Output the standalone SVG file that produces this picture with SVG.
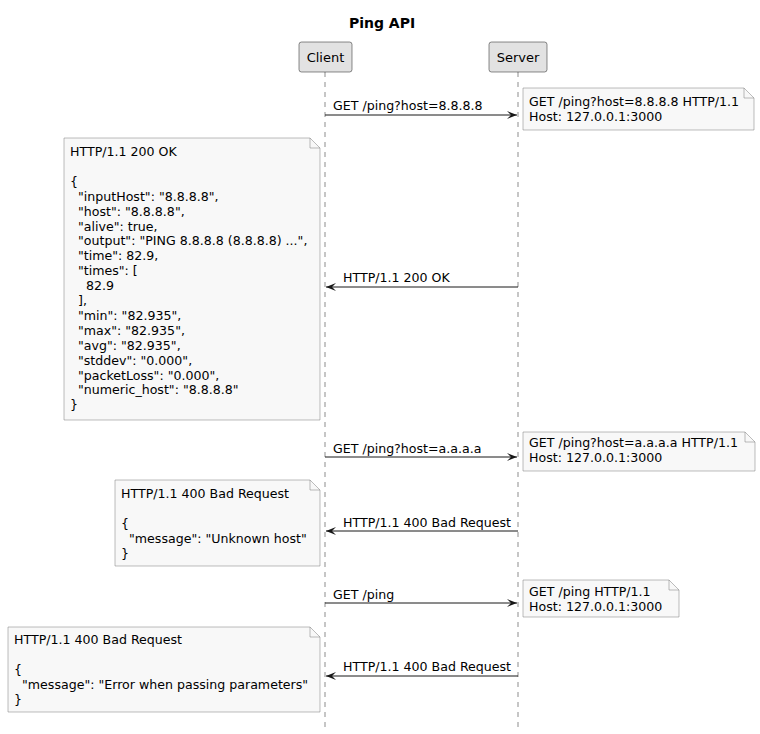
<svg xmlns="http://www.w3.org/2000/svg" width="760" height="734" viewBox="0 0 760 734">
<defs>
<marker id="ah" markerWidth="10" markerHeight="8" refX="10" refY="4" orient="auto" markerUnits="userSpaceOnUse">
<path d="M0,0 L10,4 L0,8 L4,4 Z" fill="#181818"/>
</marker>
<style>
text{font-family:"DejaVu Sans","Liberation Sans",sans-serif;font-size:12.6px;fill:#000}
.title{font-weight:bold;font-size:14px}
.pt{font-size:13px}
.part{fill:#E2E2E2;stroke:#181818;stroke-width:0.5}
.life{stroke:#181818;stroke-width:0.5;stroke-dasharray:5,5;fill:none}
.msg{stroke:#181818;stroke-width:1;fill:none;marker-end:url(#ah)}
.note{fill:#F8F8F8;stroke:#7A7A7A;stroke-width:0.5}
.fold{fill:none;stroke:#7A7A7A;stroke-width:0.5}
</style>
</defs>
<rect width="760" height="734" fill="#FFFFFF"/>
<text class="title" x="382" y="28" text-anchor="middle">Ping API</text>

<g id="lifelines">
<line class="life" x1="325" y1="72" x2="325" y2="730"/>
<line class="life" x1="518" y1="72" x2="518" y2="730"/>
</g>

<g id="client">
<rect class="part" x="299" y="42" width="53" height="30" rx="2.5"/>
<text class="pt" x="325.5" y="62" text-anchor="middle">Client</text>
</g>
<g id="server">
<rect class="part" x="489" y="42" width="58" height="30" rx="2.5"/>
<text class="pt" x="518" y="62" text-anchor="middle">Server</text>
</g>

<g id="connectors">
<line class="msg" x1="325" y1="115" x2="517" y2="115"/>
<text x="333" y="110">GET /ping?host=8.8.8.8</text>
<line class="msg" x1="518" y1="287" x2="326" y2="287"/>
<text x="343" y="282">HTTP/1.1 200 OK</text>
<line class="msg" x1="325" y1="457" x2="517" y2="457"/>
<text x="333" y="453">GET /ping?host=a.a.a.a</text>
<line class="msg" x1="518" y1="531" x2="326" y2="531"/>
<text x="343" y="527">HTTP/1.1 400 Bad Request</text>
<line class="msg" x1="325" y1="603" x2="517" y2="603"/>
<text x="333" y="599">GET /ping</text>
<line class="msg" x1="518" y1="676" x2="326" y2="676"/>
<text x="343" y="671">HTTP/1.1 400 Bad Request</text>
</g>

<g id="note1">
<path class="note" d="M523,88 L744,88 L754,98 L754,130 L523,130 Z"/>
<path class="fold" d="M744,88 L744,98 L754,98"/>
<text x="529" y="106">GET /ping?host=8.8.8.8 HTTP/1.1</text>
<text x="529" y="121">Host: 127.0.0.1:3000</text>
</g>

<g id="note2">
<path class="note" d="M64,138 L310,138 L320,148 L320,420 L64,420 Z"/>
<path class="fold" d="M310,138 L310,148 L320,148"/>
<text x="70" y="156">HTTP/1.1 200 OK</text>
<text x="70" y="185.8">{</text>
<text x="70" y="200.7" xml:space="preserve">  "inputHost": "8.8.8.8",</text>
<text x="70" y="215.6" xml:space="preserve">  "host": "8.8.8.8",</text>
<text x="70" y="230.5" xml:space="preserve">  "alive": true,</text>
<text x="70" y="245.4" xml:space="preserve">  "output": "PING 8.8.8.8 (8.8.8.8) ...",</text>
<text x="70" y="260.3" xml:space="preserve">  "time": 82.9,</text>
<text x="70" y="275.2" xml:space="preserve">  "times": [</text>
<text x="70" y="290.1" xml:space="preserve">    82.9</text>
<text x="70" y="305" xml:space="preserve">  ],</text>
<text x="70" y="319.9" xml:space="preserve">  "min": "82.935",</text>
<text x="70" y="334.8" xml:space="preserve">  "max": "82.935",</text>
<text x="70" y="349.7" xml:space="preserve">  "avg": "82.935",</text>
<text x="70" y="364.6" xml:space="preserve">  "stddev": "0.000",</text>
<text x="70" y="379.5" xml:space="preserve">  "packetLoss": "0.000",</text>
<text x="70" y="394.4" xml:space="preserve">  "numeric_host": "8.8.8.8"</text>
<text x="70" y="409.3">}</text>
</g>

<g id="note3">
<path class="note" d="M523,432 L745,432 L755,442 L755,471 L523,471 Z"/>
<path class="fold" d="M745,432 L745,442 L755,442"/>
<text x="529" y="447">GET /ping?host=a.a.a.a HTTP/1.1</text>
<text x="529" y="462">Host: 127.0.0.1:3000</text>
</g>

<g id="note4">
<path class="note" d="M115,480 L310,480 L320,490 L320,566 L115,566 Z"/>
<path class="fold" d="M310,480 L310,490 L320,490"/>
<text x="121" y="498">HTTP/1.1 400 Bad Request</text>
<text x="121" y="528">{</text>
<text x="121" y="543" xml:space="preserve">  "message": "Unknown host"</text>
<text x="121" y="558">}</text>
</g>

<g id="note5">
<path class="note" d="M523,580 L669,580 L679,590 L679,617 L523,617 Z"/>
<path class="fold" d="M669,580 L669,590 L679,590"/>
<text x="529" y="596">GET /ping HTTP/1.1</text>
<text x="529" y="611">Host: 127.0.0.1:3000</text>
</g>

<g id="note6">
<path class="note" d="M8,627 L310,627 L320,637 L320,712 L8,712 Z"/>
<path class="fold" d="M310,627 L310,637 L320,637"/>
<text x="14" y="644">HTTP/1.1 400 Bad Request</text>
<text x="14" y="674">{</text>
<text x="14" y="689" xml:space="preserve">  "message": "Error when passing parameters"</text>
<text x="14" y="704">}</text>
</g>
</svg>
